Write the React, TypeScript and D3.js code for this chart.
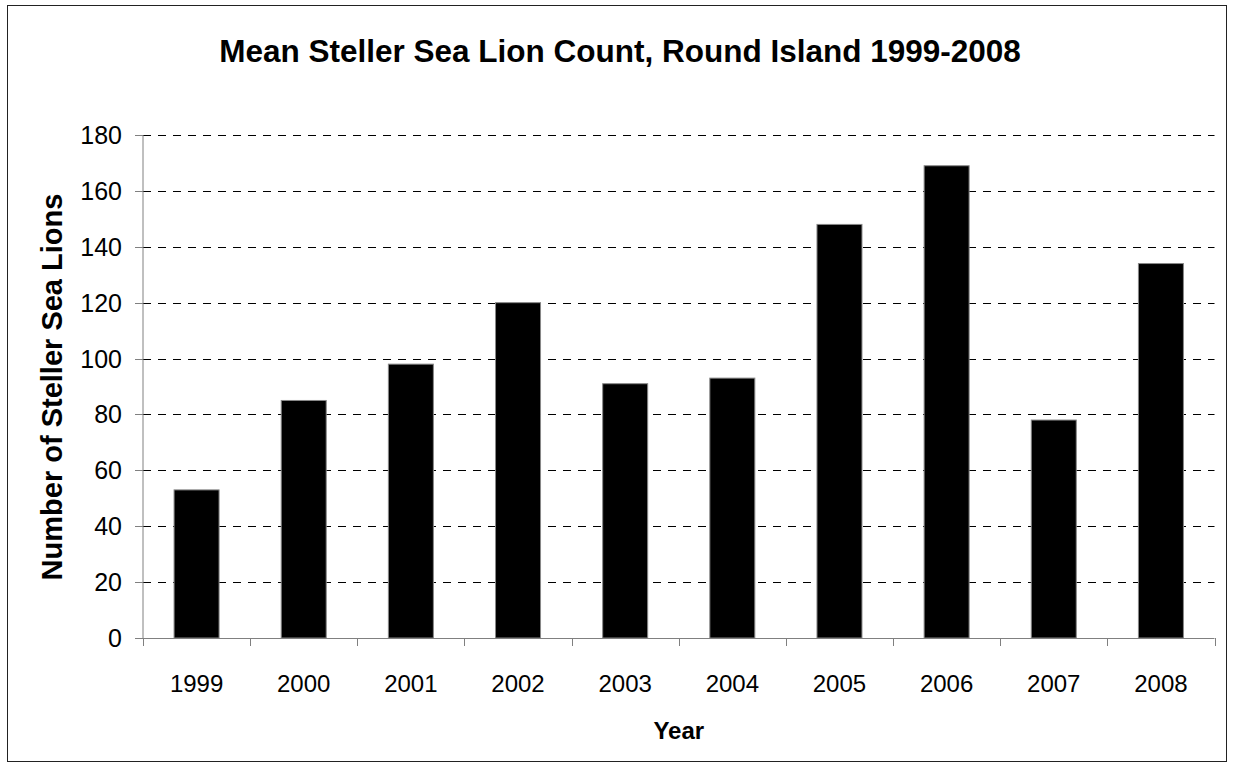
import React, { useRef, useEffect } from 'react';
import * as d3 from 'd3';

// data
const years = ['1999', '2000', '2001', '2002', '2003', '2004', '2005', '2006', '2007', '2008'];
const counts = [53, 85, 98, 120, 91, 93, 148, 169, 78, 134];
const yTicks = [0, 20, 40, 60, 80, 100, 120, 140, 160, 180];

const W = 1233;
const H = 768;
const FONT = 'Arial, "Liberation Sans", Helvetica, sans-serif';

const App: React.FC = () => {
  const svgRef = useRef<SVGSVGElement | null>(null);

  useEffect(() => {
    const svg = d3.select(svgRef.current);
    svg.selectAll('*').remove();

    const left = 143;
    const right = 1214.5;
    const top = 135;
    const bottom = 638;

    // outer frame
    svg.append('rect')
      .attr('x', 7.5).attr('y', 5.5)
      .attr('width', 1219).attr('height', 756)
      .attr('fill', '#fff').attr('stroke', '#222').attr('stroke-width', 1);

    const x = d3.scaleBand<string>().domain(years).range([left, right]).paddingInner(0.58).paddingOuter(0.29);
    const xEdge = d3.scaleLinear().domain([0, years.length]).range([left, right]);
    const y = d3.scaleLinear().domain([0, 180]).range([bottom, top]);

    // gridlines
    svg.append('g')
      .selectAll('line')
      .data(yTicks.filter((t) => t > 0))
      .enter()
      .append('line')
      .attr('x1', left).attr('x2', right)
      .attr('y1', (d) => Math.round(y(d)) + 0.5)
      .attr('y2', (d) => Math.round(y(d)) + 0.5)
      .attr('stroke', '#000')
      .attr('stroke-dasharray', '8,7');

    // bars
    svg.append('g')
      .selectAll('rect')
      .data(counts)
      .enter()
      .append('rect')
      .attr('x', (_, i) => x(years[i])!)
      .attr('y', (d) => y(d))
      .attr('width', x.bandwidth())
      .attr('height', (d) => bottom - y(d))
      .attr('fill', '#000')
      .attr('stroke', '#888')
      .attr('stroke-width', 1);

    const axisColor = '#808080';

    // y axis
    const yg = svg.append('g');
    yg.append('line')
      .attr('x1', left).attr('x2', left).attr('y1', top).attr('y2', bottom)
      .attr('stroke', axisColor);
    yg.selectAll('line.tick')
      .data(yTicks)
      .enter()
      .append('line')
      .attr('class', 'tick')
      .attr('x1', left - 8).attr('x2', left)
      .attr('y1', (d) => Math.round(y(d)) + 0.5)
      .attr('y2', (d) => Math.round(y(d)) + 0.5)
      .attr('stroke', axisColor);
    yg.selectAll('text')
      .data(yTicks)
      .enter()
      .append('text')
      .attr('x', 122)
      .attr('y', (d) => y(d) + 9)
      .attr('text-anchor', 'end')
      .style('font-family', FONT)
      .style('font-size', '25px')
      .text((d) => d);

    // x axis
    const xg = svg.append('g');
    xg.append('line')
      .attr('x1', left).attr('x2', right).attr('y1', bottom + 0.5).attr('y2', bottom + 0.5)
      .attr('stroke', axisColor);
    xg.selectAll('line.tick')
      .data(d3.range(years.length + 1))
      .enter()
      .append('line')
      .attr('class', 'tick')
      .attr('x1', (d) => Math.round(xEdge(d)) + 0.5)
      .attr('x2', (d) => Math.round(xEdge(d)) + 0.5)
      .attr('y1', bottom).attr('y2', bottom + 8)
      .attr('stroke', axisColor);
    xg.selectAll('text')
      .data(years)
      .enter()
      .append('text')
      .attr('x', (d) => x(d)! + x.bandwidth() / 2)
      .attr('y', 692)
      .attr('text-anchor', 'middle')
      .style('font-family', FONT)
      .style('font-size', '24px')
      .text((d) => d);

    // titles
    svg.append('text')
      .attr('x', 620).attr('y', 62)
      .attr('text-anchor', 'middle')
      .style('font-family', FONT)
      .style('font-size', '31.5px')
      .style('font-weight', 'bold')
      .text('Mean Steller Sea Lion Count, Round Island 1999-2008');

    svg.append('text')
      .attr('x', (left + right) / 2).attr('y', 739)
      .attr('text-anchor', 'middle')
      .style('font-family', FONT)
      .style('font-size', '24px')
      .style('font-weight', 'bold')
      .text('Year');

    svg.append('text')
      .attr('transform', `translate(62,387) rotate(-90)`)
      .attr('text-anchor', 'middle')
      .style('font-family', FONT)
      .style('font-size', '29px')
      .style('font-weight', 'bold')
      .text('Number of Steller Sea Lions');
  }, []);

  return (
    <svg
      ref={svgRef}
      width={W}
      height={H}
      style={{ position: 'absolute', left: 0, top: 0, background: '#fff' }}
    />
  );
};

export default App;
